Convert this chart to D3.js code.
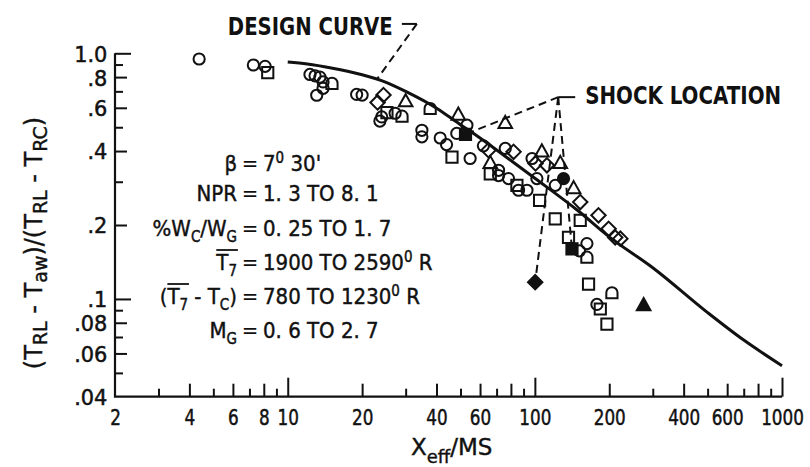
<!DOCTYPE html>
<html>
<head>
<meta charset="utf-8">
<script src="https://cdn.jsdelivr.net/npm/d3@7"></script>
<style>
  html, body { margin: 0; padding: 0; background: #fff; }
  svg { display: block; }
  text { font-family: "DejaVu Sans", "Liberation Sans", sans-serif; fill: #111; white-space: pre; }
</style>
</head>
<body>
<svg id="chart" width="810" height="467"></svg>
<script>
// ---------- axis ticks ----------
const xTickLabels = [2, 4, 6, 8, 10, 20, 40, 60, 100, 200, 400, 600, 1000];
const xTicksLong  = [10, 100, 1000];
const xTicksMid   = [4, 6, 8, 20, 40, 60, 80, 200, 400, 600, 800];
const xTicksShort = [3, 5, 7, 9, 30, 50, 70, 90, 300, 500, 700, 900];

const yTickLabels = [1.0, 0.8, 0.6, 0.4, 0.2, 0.1, 0.08, 0.06, 0.04];
const yTickText   = ["1.0", ".8", ".6", ".4", ".2", ".1", ".08", ".06", ".04"];
const yTicksLong  = [1.0, 0.1];
const yTicksMid   = [0.8, 0.6, 0.4, 0.2, 0.08, 0.06];
const yTicksShort = [0.9, 0.7, 0.5, 0.3, 0.09, 0.07, 0.05];

// ---------- design curve (Xeff/MS, effectiveness) ----------
const designCurve = [
  [10, 0.922], [12, 0.905], [15, 0.872], [20, 0.818], [25, 0.762], [30, 0.700],
  [40, 0.598], [50, 0.512], [60, 0.452], [80, 0.366], [100, 0.310], [150, 0.228],
  [200, 0.179], [300, 0.134], [500, 0.088], [700, 0.068], [1000, 0.0535]
];

// ---------- test points by symbol ----------
const openCircles = [
  [4.38, 0.948], [7.26, 0.896], [8.1, 0.885],
  [12.3, 0.82], [12.9, 0.81], [13.5, 0.80], [13.9, 0.765], [13.9, 0.72], [13.1, 0.675],
  [19.0, 0.68], [20.0, 0.676],
  [24.0, 0.551], [23.6, 0.53], [27.2, 0.57],
  [34.9, 0.486], [34.9, 0.457], [41.4, 0.452], [43.9, 0.425], [48.3, 0.472], [53.1, 0.51],
  [54.7, 0.373], [61.9, 0.42], [75.9, 0.41], [71.3, 0.334], [71.3, 0.318], [78.2, 0.309],
  [85.9, 0.277], [92.9, 0.277], [97.4, 0.373], [101.9, 0.309], [121, 0.29],
  [162.4, 0.168], [151.5, 0.157], [178.3, 0.095]
];
const openSquares = [
  [8.3, 0.835], [25.2, 0.573], [46.2, 0.378], [66.0, 0.323], [84.6, 0.29],
  [104.5, 0.252], [120.9, 0.212], [152.6, 0.209], [136.8, 0.178],
  [164.9, 0.115], [184, 0.091], [195.7, 0.079]
];
const openDiamonds = [
  [24.4, 0.676], [23.1, 0.631], [64.9, 0.403], [82.0, 0.397], [100.6, 0.356],
  [111.9, 0.35], [152.6, 0.248], [180.9, 0.219], [198.8, 0.193], [211.4, 0.178], [221.8, 0.176]
];
const openTriangles = [
  [30.0, 0.635], [49.0, 0.56], [75.9, 0.518], [66.0, 0.356], [106.7, 0.397],
  [126.7, 0.356], [143.5, 0.281]
];
const openFlags = [
  [15.1, 0.755], [29.0, 0.555], [37.7, 0.596], [162.4, 0.148], [205, 0.106]
];
const solidSquares   = [[52.4, 0.468], [141.3, 0.16]];
const solidDiamonds  = [[100.3, 0.117]];
const solidTriangles = [[275.5, 0.094]];
const solidCircles   = [[130.6, 0.309]];

// ---------- callouts ----------
const shockAnchor   = [124.3, 0.663];
const shockTargets  = [[52.4, 0.468], [100.3, 0.117], [141.3, 0.16]];
const designAnchor  = [33.3, 1.317];
const designTarget  = [23.1, 0.791];

// parameter table: [text, kind]
const paramRows = [
  { left: [["β"]], right: [["7"], ["0", "sup"], [" 30'"]] },
  { left: [["NPR"]], right: [["1. 3 TO 8. 1"]] },
  { left: [["%W"], ["C", "sub"], ["/W"], ["G", "sub"]], right: [["0. 25 TO 1. 7"]] },
  { left: [["T", "bar"], ["7", "sub"]], right: [["1900 TO 2590"], ["0", "sup"], [" R"]] },
  { left: [["("], ["T", "bar"], ["7", "sub"], [" - T"], ["C", "sub"], [")"]], right: [["780 TO 1230"], ["0", "sup"], [" R"]] },
  { left: [["M"], ["G", "sub"]], right: [["0. 6 TO 2. 7"]] }
];
const paramBaselines = [171, 201, 236, 270, 304, 338];

// ---------- scales ----------
const svg = d3.select("#chart");
const x = d3.scaleLog().domain([2, 1000]).range([115, 782]);
const y = d3.scaleLog().domain([0.04, 1]).range([396.7, 53.3]);
const INK = "#111";

// ---------- axes: inward ticks of three lengths ----------
function tickSet(gen, vals, len, transform) {
  const g = svg.append("g").attr("transform", transform)
    .call(gen.tickValues(vals).tickSize(-len).tickSizeOuter(0).tickFormat(""));
  g.select(".domain").remove();
  g.selectAll("line").attr("stroke", INK).attr("stroke-width", 2);
}
const xT = `translate(0,${y(0.04)})`;
const yT = `translate(${x(2)},0)`;
tickSet(d3.axisBottom(x), xTicksLong, 19, xT);
tickSet(d3.axisBottom(x), xTicksMid, 13, xT);
tickSet(d3.axisBottom(x), xTicksShort, 8, xT);
tickSet(d3.axisLeft(y), yTicksLong, 16, yT);
tickSet(d3.axisLeft(y), yTicksMid, 12, yT);
tickSet(d3.axisLeft(y), yTicksShort, 8, yT);

// axis frame lines
svg.append("path")
  .attr("d", `M${x(2)},${y(1)}V${y(0.04)}H${x(1000)}`)
  .attr("fill", "none").attr("stroke", INK).attr("stroke-width", 2.2);

// tick labels
const gxl = svg.append("g").attr("transform", xT)
  .call(d3.axisBottom(x).tickValues(xTickLabels).tickSize(0).tickFormat(d3.format("d")));
gxl.select(".domain").remove();
gxl.attr("font-family", null).attr("font-size", null);
gxl.selectAll("text")
  .attr("y", 28.5).attr("dy", null)
  .attr("font-size", 21).attr("fill", INK)
  .attr("stroke", INK).attr("stroke-width", 0.5)
  .attr("transform", "scale(0.8,1)");

const gyl = svg.append("g").attr("transform", yT)
  .call(d3.axisLeft(y).tickValues(yTickLabels).tickSize(0)
    .tickFormat(d => yTickText[yTickLabels.indexOf(d)]));
gyl.select(".domain").remove();
gyl.attr("font-family", null).attr("font-size", null);
gyl.selectAll("text")
  .attr("x", -8).attr("dy", "0.36em")
  .attr("font-size", 22).attr("fill", INK)
  .attr("stroke", INK).attr("stroke-width", 0.5)
  .attr("transform", "scale(0.95,1)");

// axis titles
const yTitle = svg.append("text")
  .attr("transform", "translate(42,243) rotate(-90)")
  .attr("text-anchor", "middle").attr("font-size", 24)
  .attr("stroke", INK).attr("stroke-width", 0.4);
[["(T"], ["RL", 1], [" - T"], ["aw", 1], [")/(T"], ["RL", 1], [" - T"], ["RC", 1], [")"]]
  .reduce((prev, [s, sub]) => {
    const shift = sub ? 5 : 0;
    const ts = yTitle.append("tspan").text(s).attr("dy", shift - prev);
    if (sub) ts.attr("font-size", 19);
    return shift;
  }, 0);

const xTitle = svg.append("text")
  .attr("x", 411).attr("y", 455).attr("font-size", 23)
  .attr("stroke", INK).attr("stroke-width", 0.4);
xTitle.append("tspan").text("X");
xTitle.append("tspan").text("eff").attr("font-size", 18).attr("dy", 8);
xTitle.append("tspan").text("/MS").attr("dy", -8);

// ---------- design curve ----------
const line = d3.line().x(d => x(d[0])).y(d => y(d[1])).curve(d3.curveMonotoneX);
svg.append("path").datum(designCurve)
  .attr("d", line).attr("fill", "none")
  .attr("stroke", INK).attr("stroke-width", 3);

// ---------- callout leaders ----------
const dash = "8,5";
shockTargets.forEach(t => {
  svg.append("line")
    .attr("x1", x(shockAnchor[0])).attr("y1", y(shockAnchor[1]))
    .attr("x2", x(t[0])).attr("y2", y(t[1]))
    .attr("stroke", INK).attr("stroke-width", 2).attr("stroke-dasharray", dash);
});
svg.append("line")
  .attr("x1", x(shockAnchor[0])).attr("y1", y(shockAnchor[1]))
  .attr("x2", x(shockAnchor[0]) + 17).attr("y2", y(shockAnchor[1]))
  .attr("stroke", INK).attr("stroke-width", 2);

svg.append("line")
  .attr("x1", x(designAnchor[0])).attr("y1", y(designAnchor[1]))
  .attr("x2", x(designTarget[0])).attr("y2", y(designTarget[1]))
  .attr("stroke", INK).attr("stroke-width", 2).attr("stroke-dasharray", dash);
svg.append("line")
  .attr("x1", x(designAnchor[0]) - 15).attr("y1", y(designAnchor[1]))
  .attr("x2", x(designAnchor[0])).attr("y2", y(designAnchor[1]))
  .attr("stroke", INK).attr("stroke-width", 2);

// condensed bold label, squeezed horizontally to a given width
function label(str, left, baseline, width) {
  const g = svg.append("g");
  const t = g.append("text").attr("font-size", 25).attr("font-weight", "bold").text(str);
  const k = width / t.node().getComputedTextLength();
  g.attr("transform", `translate(${left},${baseline}) scale(${k},1)`);
}
label("SHOCK LOCATION", x(shockAnchor[0]) + 27, y(shockAnchor[1]) + 7, 196);
label("DESIGN CURVE", x(designAnchor[0]) - 189, y(designAnchor[1]) + 11, 165);

// ---------- symbols ----------
const R = 5.6;
const shapes = {
  circle: d3.symbol(d3.symbolCircle, Math.PI * R * R)(),
  square: `M${-R},${-R}H${R}V${R}H${-R}Z`,
  diamond: "M0,-7.2L7.2,0L0,7.2L-7.2,0Z",
  triangle: "M0,-7.6L6.8,4.6L-6.8,4.6Z",
  flag: `M${-R},${R}V0A${R},${R} 0 0 1 ${R},0V${R}Z`
};
function plot(points, shape, solid) {
  svg.append("g").selectAll("path").data(points).join("path")
    .attr("transform", d => `translate(${x(d[0])},${y(d[1])})`)
    .attr("d", shapes[shape])
    .attr("fill", solid ? INK : "none")
    .attr("stroke", INK).attr("stroke-width", 2);
}
plot(openCircles, "circle", false);
plot(openSquares, "square", false);
plot(openDiamonds, "diamond", false);
plot(openTriangles, "triangle", false);
plot(openFlags, "flag", false);
plot(solidSquares, "square", true);
plot(solidDiamonds, "diamond", true);
plot(solidTriangles, "triangle", true);
plot(solidCircles, "circle", true);

// ---------- parameter table ----------
const SX = 0.9, GAP = 13;
function run(g, segs, anchor, xPos) {
  const t = g.append("text").attr("x", xPos).attr("text-anchor", anchor)
    .attr("font-size", 22).attr("stroke", INK).attr("stroke-width", 0.45);
  let prev = 0, idx = 0;
  const bars = [];
  segs.forEach(([s, kind], k) => {
    const shift = kind === "sub" ? 6 : kind === "sup" ? -8 : 0;
    const ts = t.append("tspan").text(s).attr("dy", shift - prev);
    if (kind === "sub" || kind === "sup") ts.attr("font-size", 15);
    prev = shift;
    if (kind === "bar") bars.push({ i: idx, n: s.length + (segs[k + 1] ? segs[k + 1][0].length : 0) });
    idx += s.length;
  });
  const node = t.node();
  bars.forEach(b => {
    const x0 = node.getStartPositionOfChar(b.i).x;
    const x1 = node.getEndPositionOfChar(b.i + b.n - 1).x;
    g.append("line").attr("x1", x0).attr("x2", x1 + 1).attr("y1", -20).attr("y2", -20)
      .attr("stroke", INK).attr("stroke-width", 1.8);
  });
}
paramRows.forEach((row, i) => {
  const g = svg.append("g").attr("transform", `translate(250,${paramBaselines[i]}) scale(${SX},1)`);
  run(g, row.left, "end", -GAP / SX);
  g.append("text").attr("x", 0).attr("text-anchor", "middle").attr("font-size", 22).text("=");
  run(g, row.right, "start", GAP / SX);
});
</script>
</body>
</html>
